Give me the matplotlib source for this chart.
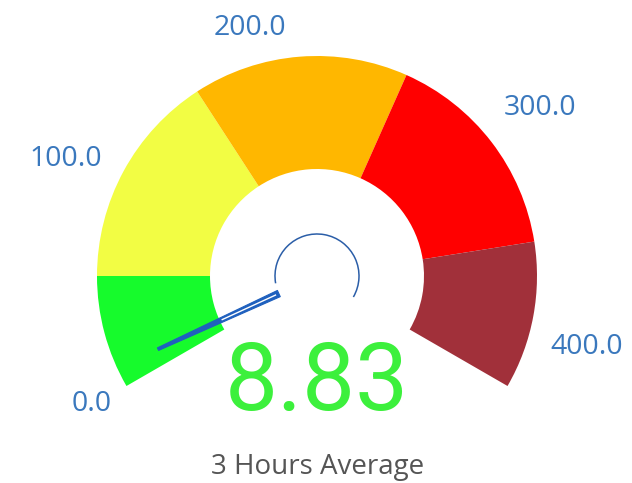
import numpy as np
import matplotlib.pyplot as plt
from matplotlib.patches import Wedge, Arc, Polygon

# gauge data
value = 8.83
gauge_min, gauge_max = 0, 400
bounds = [0, 50, 145, 240, 335, 400]
band_colors = ['#16fb2c', '#f2fd44', '#ffb700', '#ff0000', '#a1303a']
tick_values = [0, 100, 200, 300, 400]
tick_labels = ['0.0', '100.0', '200.0', '300.0', '400.0']
# label anchor: (angle in degrees, distance from centre in px)
label_pos = [(209.6, 259), (155.0, 277), (105.1, 257), (37.0, 279), (-14.7, 279)]
title = '3 Hours Average'

W, H = 632, 483
cx, cy = 317, H - 276
r_out, r_in = 220, 107
a_start, a_end = 210, -30


def val2ang(v):
    return a_start + (v - gauge_min) / (gauge_max - gauge_min) * (a_end - a_start)


fig = plt.figure(figsize=(W / 100, H / 100), dpi=100)
ax = fig.add_axes([0, 0, 1, 1])
ax.set_xlim(0, W)
ax.set_ylim(0, H)
ax.set_aspect('equal')
ax.axis('off')

# coloured bands
for i in range(len(band_colors)):
    t1, t2 = val2ang(bounds[i + 1]), val2ang(bounds[i])
    ax.add_patch(Wedge((cx, cy), r_out, t1, t2, width=r_out - r_in,
                       facecolor=band_colors[i], edgecolor='none'))

# small arc around the centre
ax.add_patch(Arc((cx, cy), 84, 84, theta1=a_end, theta2=190,
                 color='#2b5ea8', lw=1.1))

# needle
ang = np.radians(val2ang(value))
d = np.array([np.cos(ang), np.sin(ang)])
n = np.array([-d[1], d[0]])
c = np.array([cx, cy])
base = c + 42 * d
tip = c + 175 * d
pts = [base + 3.4 * n, tip + 1.4 * n, tip - 1.4 * n, base - 3.4 * n]
ax.add_patch(Polygon(pts, closed=True, facecolor='#1f60be',
                     edgecolor='#1f60be', lw=0.8, joinstyle='round'))
w0, w1 = c + 45 * d, c + 105 * d
ax.plot([w0[0], w1[0]], [w0[1], w1[1]], color='white', lw=1.0,
        solid_capstyle='butt')

# axis labels
for (la, lr), lab in zip(label_pos, tick_labels):
    t = np.radians(la)
    ax.text(cx + lr * np.cos(t), cy + lr * np.sin(t), lab,
            ha='center', va='center', fontsize=20.5, color='#3a78bd',
            family='Open Sans')

# value and title
ax.text(cx, H - 384, f'{value:.2f}', ha='center', va='center',
        fontsize=68, color='#3cf03c', family='Roboto')
ax.text(cx + 1, H - 467, title, ha='center', va='center',
        fontsize=20, color='#555555', family='Open Sans')

fig.savefig('out.png', dpi=100, facecolor='white')
